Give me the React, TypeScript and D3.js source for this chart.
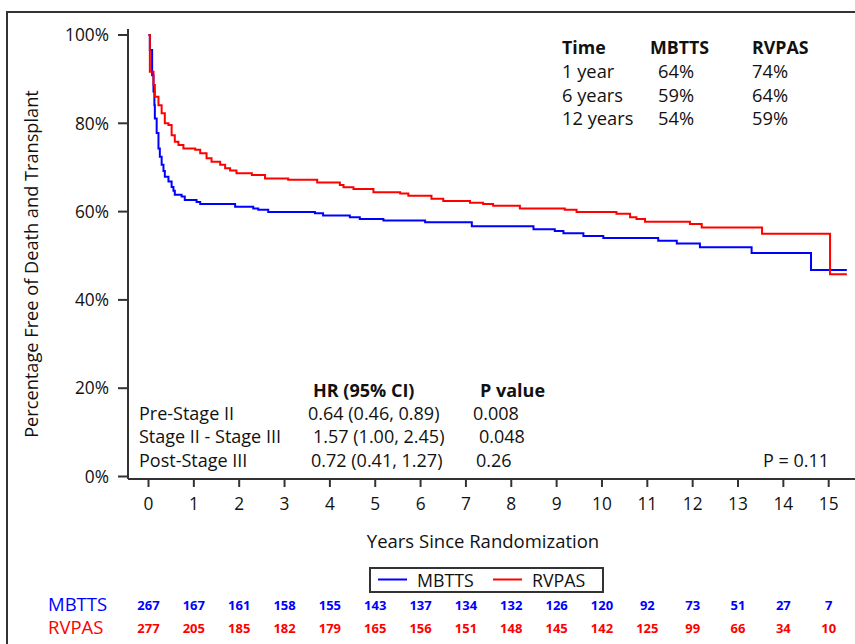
import React from "react";
import * as d3 from "d3";

// Kaplan-Meier step points: time (years) and survival (%)
const mbttsTimes = [0, 0.03, 0.08, 0.11, 0.13, 0.14, 0.18, 0.22, 0.25, 0.29, 0.33, 0.36, 0.44, 0.51, 0.55, 0.58, 0.73, 0.8, 1.06, 1.14, 1.91, 2.31, 2.42, 2.64, 3.67, 3.85, 4.44, 4.66, 5.18, 6.1, 7.13, 8.49, 8.96, 9.15, 9.59, 10.03, 11.24, 11.65, 12.16, 13.3, 14.61];
const mbttsSurv = [100, 96.6, 90.9, 87.2, 84.1, 81.1, 77.8, 74.3, 72.4, 70.6, 69.2, 67.9, 66.8, 65.6, 64.7, 63.8, 63.4, 62.6, 62.2, 61.7, 61.1, 60.7, 60.4, 59.9, 59.6, 59.1, 58.7, 58.3, 58.0, 57.6, 56.7, 56.0, 55.6, 55.1, 54.5, 54.0, 53.4, 52.8, 51.9, 50.6, 46.8];

const rvpasTimes = [0, 0.03, 0.11, 0.14, 0.22, 0.29, 0.36, 0.44, 0.51, 0.58, 0.66, 0.77, 1.03, 1.14, 1.28, 1.39, 1.58, 1.69, 1.8, 1.94, 2.28, 2.57, 3.08, 3.72, 4.22, 4.3, 4.52, 4.96, 5.55, 5.73, 6.24, 6.5, 7.09, 7.38, 7.6, 8.19, 9.18, 9.44, 10.32, 10.62, 10.76, 10.95, 11.94, 12.2, 13.53, 15.03];
const rvpasSurv = [100, 91.7, 88.7, 86.0, 84.1, 82.3, 80.0, 79.6, 77.3, 75.8, 75.1, 74.3, 74.0, 73.2, 72.1, 71.3, 70.6, 69.8, 69.3, 68.7, 68.3, 67.5, 67.2, 66.6, 66.0, 65.5, 65.1, 64.4, 64.1, 63.6, 62.9, 62.4, 62.0, 61.7, 61.3, 60.7, 60.4, 59.9, 59.5, 58.7, 58.3, 57.7, 57.2, 56.4, 55.0, 45.8];

const followUpEnd = 15.4;

const xTicks = [0, 1, 2, 3, 4, 5, 6, 7, 8, 9, 10, 11, 12, 13, 14, 15];
const yTicks = [0, 20, 40, 60, 80, 100];

const mbttsAtRisk = [267, 167, 161, 158, 155, 143, 137, 134, 132, 126, 120, 92, 73, 51, 27, 7];
const rvpasAtRisk = [277, 205, 185, 182, 179, 165, 156, 151, 148, 145, 142, 125, 99, 66, 34, 10];

const survHeader = ["Time", "MBTTS", "RVPAS"];
const survRows = [
  ["1 year", "64%", "74%"],
  ["6 years", "59%", "64%"],
  ["12 years", "54%", "59%"],
];

const hrHeader = ["HR (95% CI)", "P value"];
const hrRows = [
  ["Pre-Stage II", "0.64 (0.46, 0.89)", "0.008"],
  ["Stage II - Stage III", "1.57 (1.00, 2.45)", "0.048"],
  ["Post-Stage III", "0.72 (0.41, 1.27)", "0.26"],
];

const BLUE = "#0000ff";
const RED = "#ff0000";
const AXIS = "#333";
const FONT = "'Open Sans', 'DejaVu Sans', sans-serif";

function App() {
  const width = 855;
  const height = 644;

  const x = d3.scaleLinear().domain([0, 15]).range([148.5, 828.7]);
  const y = d3.scaleLinear().domain([0, 100]).range([476.5, 35]);

  const axisX = 128;
  const axisY = 479;

  const line = d3
    .line<[number, number]>()
    .x((d) => x(d[0]))
    .y((d) => y(d[1]))
    .curve(d3.curveStepAfter);

  const toPoints = (times: number[], surv: number[]) => {
    const pts: [number, number][] = times.map((t, i) => [t, surv[i]]);
    pts.push([followUpEnd, surv[surv.length - 1]]);
    return pts;
  };

  // x offsets of the text columns
  const survCols = [562, 650, 752];
  const survValCols = [562, 658, 752];
  const hrCols = [313, 480];
  const hrRowCols = [
    [139, 308, 473],
    [139, 313, 479],
    [139, 311, 476],
  ];

  return (
    <svg
      width={width}
      height={height}
      style={{ position: "absolute", left: 0, top: 0, background: "#fff" }}
      fontFamily={FONT}
    >
      {/* outer frame */}
      <path d={`M7,${height + 5}V12H${width + 5}`} fill="none" stroke={AXIS} strokeWidth={2} />

      {/* y axis */}
      <line x1={axisX} x2={axisX} y1={29} y2={axisY} stroke={AXIS} strokeWidth={2} />
      {yTicks.map((t) => (
        <g key={t}>
          <line x1={axisX - 10} x2={axisX} y1={y(t)} y2={y(t)} stroke={AXIS} strokeWidth={2} />
          <text x={109} y={y(t)} dy="0.36em" textAnchor="end" fontSize={17.3} fill="#111">
            {t}%
          </text>
        </g>
      ))}
      <text
        transform={`translate(38,264) rotate(-90)`}
        textAnchor="middle"
        fontSize={18.2}
        fill="#111"
      >
        Percentage Free of Death and Transplant
      </text>

      {/* x axis */}
      <line x1={axisX} x2={width} y1={axisY} y2={axisY} stroke={AXIS} strokeWidth={2} />
      {xTicks.map((t) => (
        <g key={t}>
          <line x1={x(t)} x2={x(t)} y1={axisY} y2={axisY + 8} stroke={AXIS} strokeWidth={2} />
          <text x={x(t)} y={510} textAnchor="middle" fontSize={17.3} fill="#111">
            {t}
          </text>
        </g>
      ))}
      <text x={483} y={548} textAnchor="middle" fontSize={18.5} fill="#111">
        Years Since Randomization
      </text>

      {/* survival curves */}
      <path d={line(toPoints(mbttsTimes, mbttsSurv)) || ""} fill="none" stroke={BLUE} strokeWidth={2} />
      <path d={line(toPoints(rvpasTimes, rvpasSurv)) || ""} fill="none" stroke={RED} strokeWidth={2} />

      {/* survival table top right */}
      {survHeader.map((h, i) => (
        <text key={h} x={survCols[i]} y={54} fontSize={17.8} fontWeight="bold" fill="#111">
          {h}
        </text>
      ))}
      {survRows.map((row, r) =>
        row.map((v, c) => (
          <text key={`${r}-${c}`} x={survValCols[c]} y={78.3 + r * 23.4} fontSize={18.3} fill="#111">
            {v}
          </text>
        ))
      )}

      {/* hazard ratio table */}
      {hrHeader.map((h, i) => (
        <text key={h} x={hrCols[i]} y={396.5} fontSize={18} fontWeight="bold" fill="#111">
          {h}
        </text>
      ))}
      {hrRows.map((row, r) =>
        row.map((v, c) => (
          <text key={`hr-${r}-${c}`} x={hrRowCols[r][c]} y={420 + r * 23.4} fontSize={18} fill="#111">
            {v}
          </text>
        ))
      )}
      <text x={829} y={467} textAnchor="end" fontSize={18} fill="#111">
        P = 0.11
      </text>

      {/* legend */}
      <rect x={370} y={568} width={233} height={24} fill="#fff" stroke={AXIS} strokeWidth={2} />
      <line x1={378} x2={407} y1={579.5} y2={579.5} stroke={BLUE} strokeWidth={2} />
      <text x={417} y={586.5} fontSize={17.8} fill="#111">MBTTS</text>
      <line x1={493} x2={522} y1={579.5} y2={579.5} stroke={RED} strokeWidth={2} />
      <text x={532} y={586.5} fontSize={17.8} fill="#111">RVPAS</text>

      {/* number at risk */}
      <text x={48} y={611} fontSize={18.5} fill={BLUE}>MBTTS</text>
      <text x={48} y={634} fontSize={18.5} fill={RED}>RVPAS</text>
      {mbttsAtRisk.map((n, i) => (
        <text key={`m${i}`} x={x(xTicks[i])} y={610} textAnchor="middle" fontSize={13} fontWeight="bold" fill={BLUE}>
          {n}
        </text>
      ))}
      {rvpasAtRisk.map((n, i) => (
        <text key={`r${i}`} x={x(xTicks[i])} y={632.5} textAnchor="middle" fontSize={13} fontWeight="bold" fill={RED}>
          {n}
        </text>
      ))}
    </svg>
  );
}

export default App;
